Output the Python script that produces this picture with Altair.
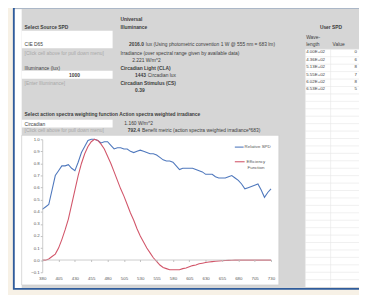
import altair as alt
import pandas as pd

# ---------------- data ----------------
wavelength = list(range(380, 735, 5))
relative_spd = [0.42, 0.44, 0.46, 0.58, 0.70, 0.74, 0.78, 0.78, 0.79, 0.76,
                0.74, 0.81, 0.89, 0.94, 0.99, 1.00, 1.00, 0.99, 0.97, 0.98,
                0.98, 0.95, 0.92, 0.93, 0.93, 0.92, 0.92, 0.90, 0.89, 0.90,
                0.91, 0.90, 0.89, 0.88, 0.88, 0.87, 0.85, 0.83, 0.82, 0.82,
                0.81, 0.78, 0.75, 0.76, 0.76, 0.76, 0.76, 0.75, 0.74, 0.73,
                0.71, 0.71, 0.71, 0.69, 0.68, 0.68, 0.68, 0.69, 0.70, 0.68,
                0.66, 0.63, 0.59, 0.60, 0.61, 0.62, 0.63, 0.58, 0.52, 0.56,
                0.59]
efficiency = [0.00, 0.00, 0.01, 0.03, 0.05, 0.10, 0.17, 0.25, 0.34, 0.46,
              0.58, 0.70, 0.80, 0.88, 0.94, 0.98, 1.00, 0.99, 0.96, 0.92,
              0.86, 0.80, 0.73, 0.66, 0.59, 0.53, 0.46, 0.39, 0.33, 0.26,
              0.20, 0.15, 0.10, 0.06, 0.02, -0.01, -0.04, -0.06, -0.07, -0.08,
              -0.08, -0.08, -0.08, -0.07, -0.065, -0.055, -0.045, -0.04, -0.03, -0.025,
              -0.02, -0.015, -0.012, -0.009, -0.007, -0.005, -0.003, -0.002, -0.001, 0.0,
              0.0, 0.0, 0.0, 0.0, 0.0, 0.0, 0.0, 0.0, 0.0, 0.0,
              0.0]
series_names = ["Relative SPD", "Efficiency Function"]
x_ticks = list(range(380, 731, 25))
y_ticks = [-0.1, 0.0, 0.1, 0.2, 0.3, 0.4, 0.5, 0.6, 0.7, 0.8, 0.9, 1.0]

user_wave = ["4.00E+02", "4.36E+02", "5.13E+02", "5.55E+02", "6.02E+02", "6.53E+02"]
user_value = ["0", "6", "8", "7", "8", "5"]

# ---------------- layout helpers ----------------
OX, OY = 8, 8
W, H = 359, 287
FONT = "Liberation Sans"


def px(x):
    return x - OX


def py(y):
    return y - OY


def one():
    return pd.DataFrame({"a": [0]})


def box(x1, y1, x2, y2, fill, stroke=None, sw=0.0):
    kw = dict(fill=fill)
    if stroke:
        kw.update(stroke=stroke, strokeWidth=sw)
    return alt.Chart(one()).mark_rect(**kw).encode(
        x=alt.value(px(x1)), x2=alt.value(px(x2)),
        y=alt.value(py(y1)), y2=alt.value(py(y2)))


def hline(x1, x2, y, color, sw=1.0):
    return alt.Chart(one()).mark_rule(color=color, strokeWidth=sw).encode(
        x=alt.value(px(x1)), x2=alt.value(px(x2)), y=alt.value(py(y)))


def vline(x, y1, y2, color, sw=1.0):
    return alt.Chart(one()).mark_rule(color=color, strokeWidth=sw).encode(
        x=alt.value(px(x)), y=alt.value(py(y1)), y2=alt.value(py(y2)))


def txt(s, x, y, bold=False, color="#3c3c3c", align="left", size=5):
    return alt.Chart(pd.DataFrame({"t": [s]})).mark_text(
        align=align, baseline="middle", font=FONT, fontSize=size,
        fontWeight="bold" if bold else "normal", color=color
    ).encode(x=alt.value(px(x)), y=alt.value(py(y)), text="t:N")


GRAY = "#d6d6d6"
LIGHT = "#a8a8a8"

layers = []
# spreadsheet frame
layers.append(box(14, 4, 372, 292, GRAY, "#2f5c9c", 2))
layers.append(box(15, 6, 22, 291, "#ffffff"))
# right column white cells
layers.append(box(312, 47, 368, 290, "#ffffff"))
for i in range(32):
    layers.append(hline(312, 368, 47 + i * 7.6, "#e6e6e6", 0.6))
layers.append(vline(338, 47, 290, "#e6e6e6", 0.6))
layers.append(vline(312, 47, 290, "#e0e0e0", 0.6))
# input boxes
layers.append(box(22, 28, 115, 46, "#ffffff"))
layers.append(box(22, 69, 115, 77, "#ffffff"))
layers.append(box(22, 119, 115, 127, "#ffffff"))
# chart area
layers.append(box(22, 135, 285, 288, "#ffffff", "#c8c8c8", 0.6))

# ---------------- line chart ----------------
n = len(wavelength)
df = pd.DataFrame({
    "nm": wavelength + wavelength,
    "value": relative_spd + efficiency,
    "series": [series_names[0]] * n + [series_names[1]] * n,
})

lines = alt.Chart(df).mark_line(strokeWidth=1.1).encode(
    x=alt.X("nm:Q",
            scale=alt.Scale(domain=[380, 730], range=[px(43), px(277)], nice=False, zero=False),
            axis=alt.Axis(values=x_ticks, offset=py(262) - H, title=None, grid=False, zindex=1,
                          domainColor="#bfbfbf", domainWidth=0.8, tickColor="#bfbfbf",
                          tickSize=2, labelFontSize=4.5, labelFont=FONT, labelColor="#5a5a5a",
                          labelPadding=14, labelFlush=False)),
    y=alt.Y("value:Q",
            scale=alt.Scale(domain=[-0.1, 1.0], range=[py(275), py(139)], nice=False, zero=False),
            axis=alt.Axis(values=y_ticks, format=".1f", offset=-px(43), title=None, grid=False, zindex=1,
                          domainColor="#bfbfbf", domainWidth=0.8, tickColor="#bfbfbf",
                          tickSize=2, labelFontSize=4.5, labelFont=FONT, labelColor="#5a5a5a",
                          labelPadding=1)),
    color=alt.Color("series:N",
                    scale=alt.Scale(domain=series_names, range=["#4f78bd", "#d2566a"]),
                    legend=None),
)
layers.append(lines)

# legend
layers.append(hline(240, 249, 147, "#4f78bd", 1.1))
layers.append(txt("Relative SPD", 250, 147, size=4.5, color="#555555"))
layers.append(hline(240, 250, 162, "#d2566a", 1.1))
layers.append(txt("Efficiency", 252, 162, size=4.5, color="#555555"))
layers.append(txt("Function", 253, 168, size=4.5, color="#555555"))

# ---------------- texts ----------------
layers += [
    txt("Select Source SPD", 25, 24, bold=True),
    txt("Universal", 123, 16, bold=True),
    txt("Illuminance", 123, 24, bold=True),
    txt("User SPD", 327, 24, bold=True),
    txt("CIE D65", 25, 42),
    txt("[Click cell above for pull down menu]", 25, 51, color=LIGHT),
    txt("Illuminance (lux)", 25, 66),
    txt("1000", 76, 73, bold=True, align="center"),
    txt("[Enter Illuminance]", 25, 81, color=LIGHT),
    txt("2016.0", 147, 42, bold=True, align="right"),
    txt("lux (Using photometric convention 1 W @ 555 nm = 683 lm)", 149, 42),
    txt("Irradiance (over spectral range given by available data)", 123, 51),
    txt("2.221 W/m^2", 135, 58),
    txt("Circadian Light (CLA)", 123, 66, bold=True),
    txt("1443", 149, 73, bold=True, align="right"),
    txt("Circadian lux", 151, 73),
    txt("Circadian Stimulus (CS)", 123, 81, bold=True),
    txt("0.39", 138, 89, bold=True),
    txt("Select action spectra weighting function Action spectra weighted irradiance", 25, 113, bold=True),
    txt("Circadian", 25, 123),
    txt("1.160 W/m^2", 127, 122),
    txt("[Click cell above for pull down menu]", 25, 130, color=LIGHT),
    txt("792.4", 143, 130, bold=True, align="right"),
    txt("Benefit metric (action spectra weighted irradiance*683)", 145, 130),
    txt("Wave-", 313, 34),
    txt("length", 313, 42),
    txt("Value", 340, 42),
]
row_y = [50, 57.6, 65.2, 72.8, 80.4, 88]
for w, v, yy in zip(user_wave, user_value, row_y):
    layers.append(txt(w, 313, yy, size=4.5))
    layers.append(txt(v, 365, yy, size=4.5, align="right"))

chart = alt.layer(*layers).properties(
    width=W, height=H,
    autosize=alt.AutoSizeParams(type="none"),
    padding=0,
    background="#f7f1e6",
).configure_view(stroke=None)

chart.save("out.html", embed_options={"renderer": "svg", "actions": False})
